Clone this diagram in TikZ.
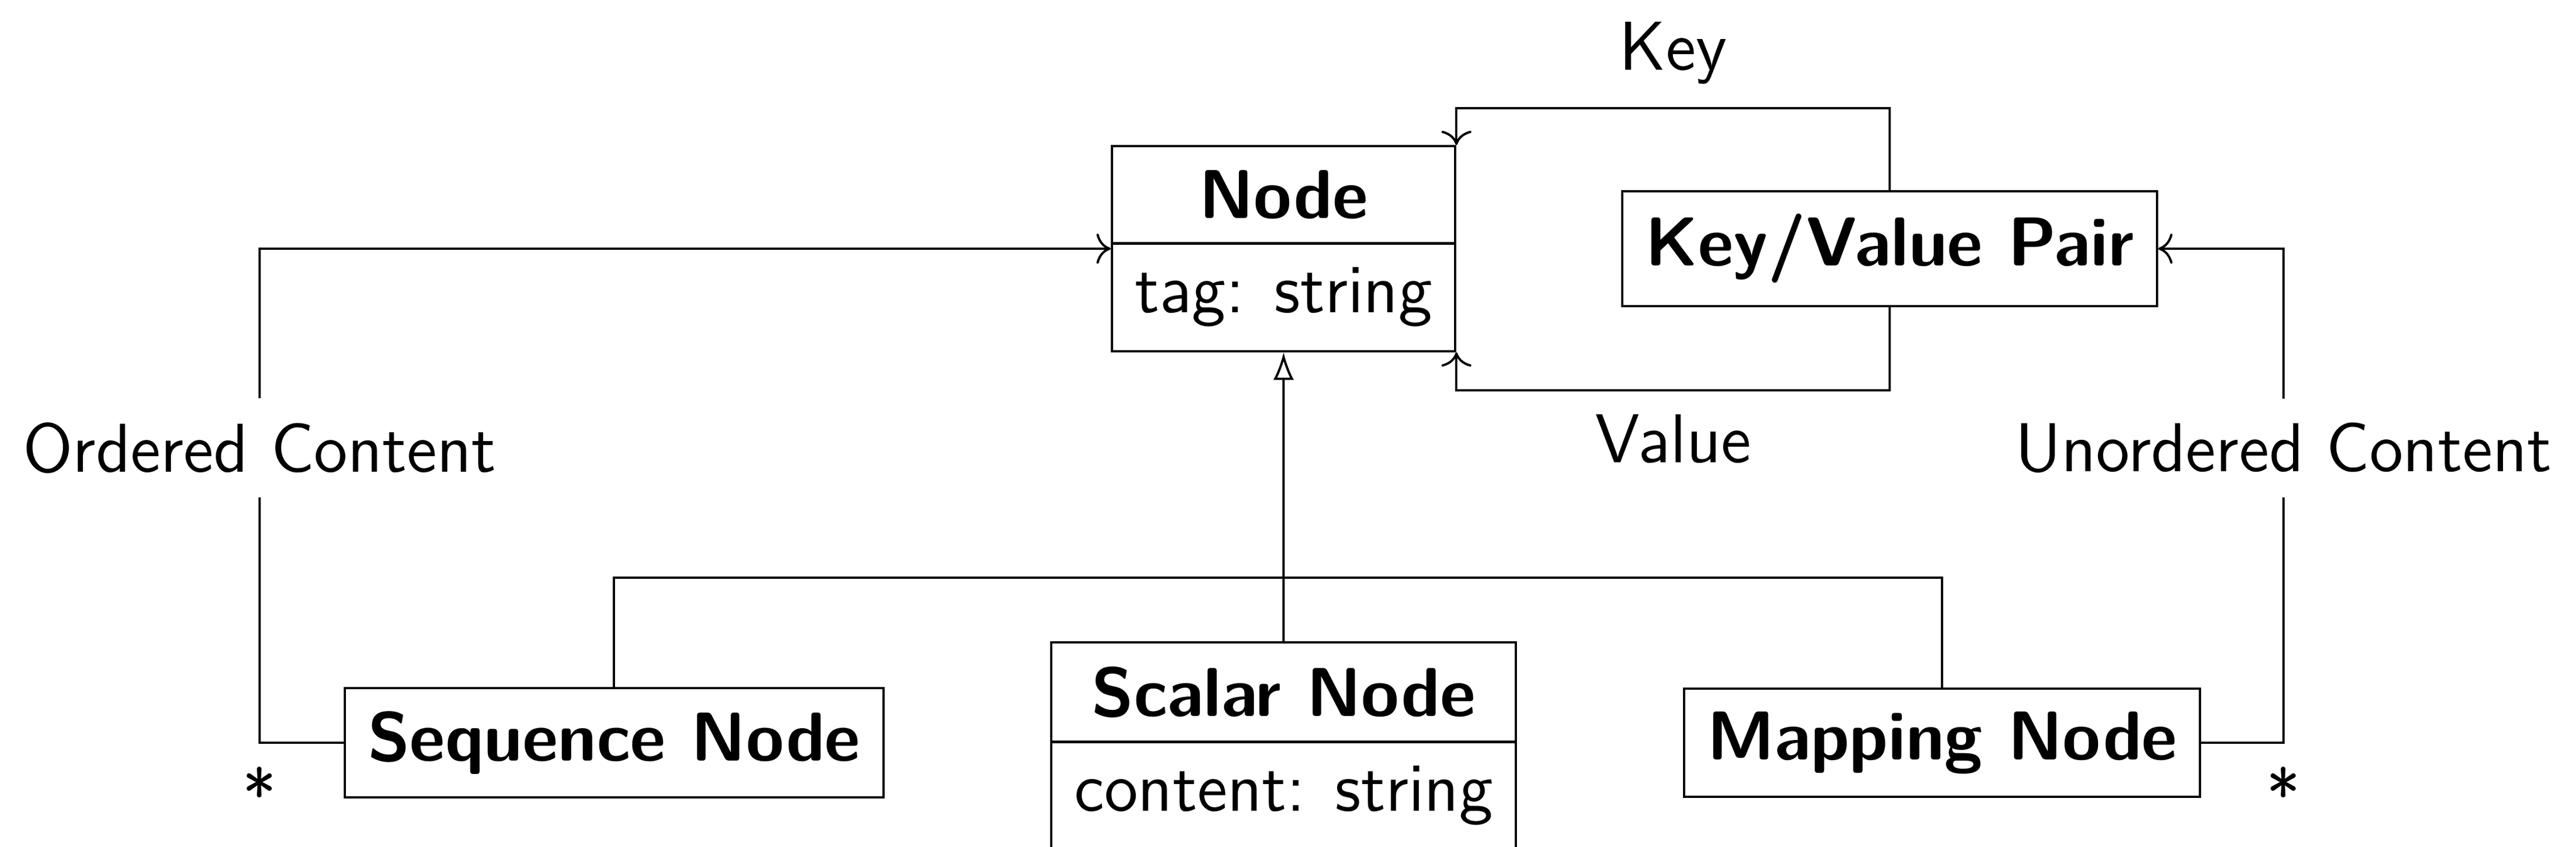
\documentclass[tikz,border=0pt,12pt]{standalone}
\usepackage{tikz}
\usetikzlibrary{calc,shapes.multipart,arrows.meta,positioning}
\newcommand{\lw}{0.4pt}

\begin{document}
\begin{tikzpicture}[font=\sffamily,
  box/.style={draw, line width=\lw, rectangle},
  split/.style={draw, line width=\lw, rectangle split, rectangle split parts=2},
  assoc/.style={->, line width=\lw},
  gen/.style={-{Latex[open]}, line width=\lw}]
\useasboundingbox (0,0) rectangle (15.728,-5.164);
\node[split] (node) at (7.837,-1.517) {\textbf{Node}\nodepart{second}tag: string};
\node[box] (kv) at (11.538,-1.517) {\textbf{Key/Value Pair}};
\node[box] (seq) at (3.749,-4.531) {\textbf{Sequence Node}};
\node[split, anchor=north] (scalar) at (7.837,-3.912) {\textbf{Scalar Node}\nodepart{second}content: string};
\node[box] (map) at (11.857,-4.531) {\textbf{Mapping Node}};
\node (ord) at (1.585,-2.732) {Ordered Content};
\node (unord) at (13.942,-2.732) {Unordered Content};
\coordinate (keytop) at (11.538,-0.660);
\coordinate (valbot) at (11.538,-2.381);
\coordinate (bus) at (7.837,-3.524);
%key / value
\draw[assoc] (kv.north) -- (keytop) -| node[pos=0.25,above] (keylbl) {Key} (node.north east);
\draw[assoc] (kv.south) -- (valbot) -| node[pos=0.25,below] (vallbl) {Value} (node.south east);
%content
\draw[assoc] (seq.west) -| (ord) |- (node.west);
\draw[assoc] (map.east) -| (unord) |- (kv.east);
\node[below] (ordmult) at (ord |- seq.west) {*};
\node[below] (unordmult) at (unord |- map.east) {*};
%inheritance
\draw[line width=\lw] (seq.north) |- (bus) -| (map.north);
\draw[gen] (scalar.north) -- (node.south);
\end{tikzpicture}
\end{document}
